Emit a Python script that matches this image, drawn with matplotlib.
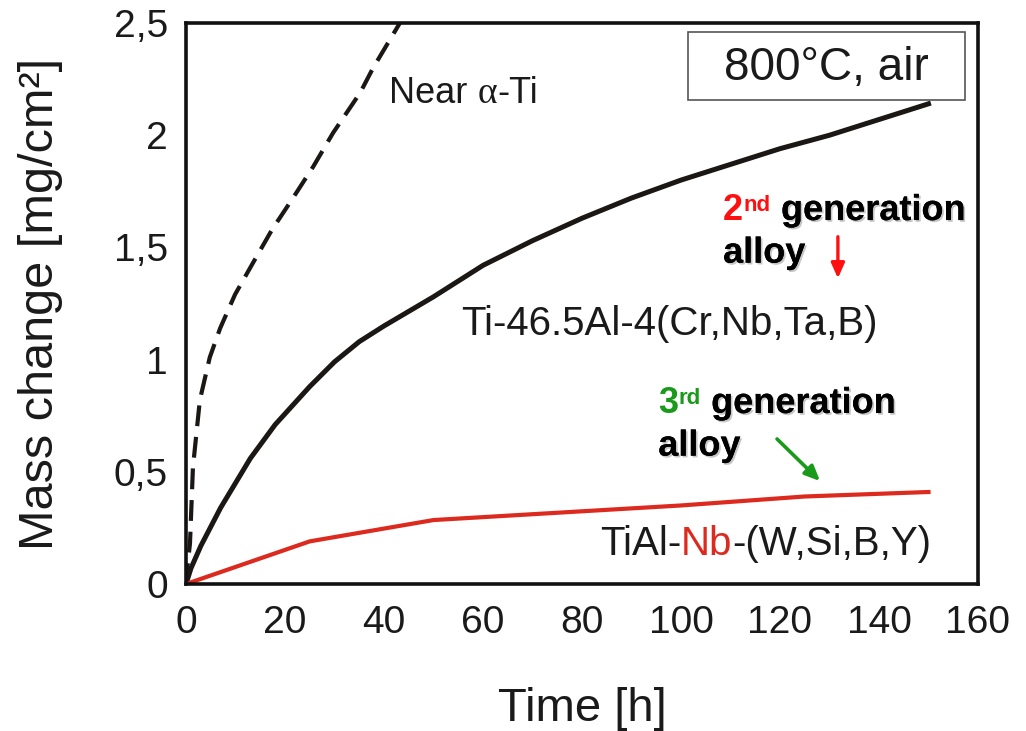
import numpy as np
import matplotlib
matplotlib.use("Agg")
import matplotlib.pyplot as plt
import matplotlib.patheffects as pe
from matplotlib.patches import Rectangle

plt.rcParams['font.family'] = ['Liberation Sans', 'DejaVu Sans']

# data
near_alpha_x = [0, 0.3, 0.8, 1.4, 2.8, 4.8, 6.9, 9.9, 13.5, 17.4, 21.6, 25.7, 29.7, 35.2, 37.8, 43.2]
near_alpha_y = [0, 0.08, 0.18, 0.52, 0.82, 1.01, 1.14, 1.29, 1.43, 1.58, 1.72, 1.86, 2.01, 2.19, 2.30, 2.5]

gen2_x = [0, 1, 3, 7, 13, 18, 25, 30, 35, 40, 50, 60, 70, 80, 90, 100, 110, 120, 130, 140, 150]
gen2_y = [0, 0.07, 0.17, 0.34, 0.56, 0.71, 0.88, 0.99, 1.08, 1.15, 1.28, 1.42, 1.53, 1.63, 1.72, 1.80, 1.87, 1.94, 2.00, 2.07, 2.14]

gen3_x = [0, 25, 50, 100, 125, 150]
gen3_y = [0, 0.19, 0.285, 0.35, 0.39, 0.41]

xticks = [0, 20, 40, 60, 80, 100, 120, 140, 160]
yticks = [0, 0.5, 1, 1.5, 2, 2.5]
ytick_labels = ['0', '0,5', '1', '1,5', '2', '2,5']

red = '#dc2a1f'
bright_red = '#ff1010'
green = '#1a9a1a'
ink = '#1a1715'
txt = '#1a1a1a'

fig = plt.figure(figsize=(10.26, 7.31), dpi=100)
ax = fig.add_axes([0.1813, 0.2011, 0.7719, 0.7674])

ax.plot(near_alpha_x, near_alpha_y, color=ink, lw=3.0, dashes=(5, 2.6), solid_capstyle='butt')
ax.plot(gen2_x, gen2_y, color=ink, lw=3.6, solid_joinstyle='round')
ax.plot(gen3_x, gen3_y, color=red, lw=3.0)

ax.set_xlim(0, 160)
ax.set_ylim(0, 2.5)
ax.set_xticks(xticks)
ax.set_yticks(yticks)
ax.set_yticklabels(ytick_labels)
ax.tick_params(axis='both', length=0, labelsize=28, colors=txt)
ax.tick_params(axis='x', pad=15)
ax.tick_params(axis='y', pad=13)
for s in ax.spines.values():
    s.set_linewidth(2.6)
    s.set_color('#111111')

ax.set_xlabel('Time [h]', fontsize=34, color=txt)
ax.set_ylabel('Mass change [mg/cm²]', fontsize=35, color=txt)
ax.xaxis.set_label_coords(0.5, -0.1836)
ax.yaxis.set_label_coords(-0.155, 0.5)

# condition box
ax.add_patch(Rectangle((0.634, 0.8627), 0.3496, 0.1213, transform=ax.transAxes,
                       fc='white', ec='#555555', lw=1.2, zorder=3))
ax.text(0.808, 0.919, '800°C, air', transform=ax.transAxes, fontsize=33,
        ha='center', va='center', color=txt, zorder=4)

# curve labels
n1 = ax.text(41.0, 2.143, 'Near ', fontsize=26, color=txt, va='baseline')
n2 = ax.annotate('α', xy=(1, 0), xycoords=n1, va='bottom', fontsize=27,
                 family='Liberation Serif', color=txt)
ax.annotate('-Ti', xy=(1, 0), xycoords=(n2, n1), va='bottom', fontsize=26, color=txt)

ax.text(55.6, 1.11, 'Ti-46.5Al-4(Cr,Nb,Ta,B)', fontsize=29, color=txt, va='baseline')

t1 = ax.text(83.6, 0.129, 'TiAl-', fontsize=29, color=txt, va='baseline')
t2 = ax.annotate('Nb', xy=(1, 0), xycoords=t1, va='bottom', fontsize=29, color=red)
ax.annotate('-(W,Si,B,Y)', xy=(1, 0), xycoords=t2, va='bottom', fontsize=29, color=txt)

shadow = [pe.withSimplePatchShadow(offset=(1.3, -1.3), shadow_rgbFace='#999999', alpha=0.55), pe.Normal()]


def generation_label(x, y, num, sup, color):
    n = ax.text(x, y, num, fontsize=26, fontweight='bold', color=color, va='baseline')
    s = ax.annotate(sup, xy=(1.03, 0.95), xycoords=n, va='top', fontsize=16,
                    fontweight='bold', color=color)
    ax.annotate(' generation', xy=(1, 0), xycoords=(s, n), va='bottom', fontsize=26,
                fontweight='bold', color='black', path_effects=shadow)
    ax.text(x, y - 0.19, 'alloy', fontsize=26, fontweight='bold', color='black',
            va='baseline', path_effects=shadow)


generation_label(108.5, 1.622, '2', 'nd', bright_red)
generation_label(95.4, 0.762, '3', 'rd', green)

ax.annotate('', xy=(131.7, 1.35), xytext=(131.7, 1.56),
            arrowprops=dict(arrowstyle='-|>,head_length=0.9,head_width=0.4', color=bright_red, lw=2.4))
ax.annotate('', xy=(128.5, 0.45), xytext=(119.0, 0.655),
            arrowprops=dict(arrowstyle='-|>,head_length=0.9,head_width=0.4', color=green, lw=2.6))

fig.savefig('out.png', dpi=100)
